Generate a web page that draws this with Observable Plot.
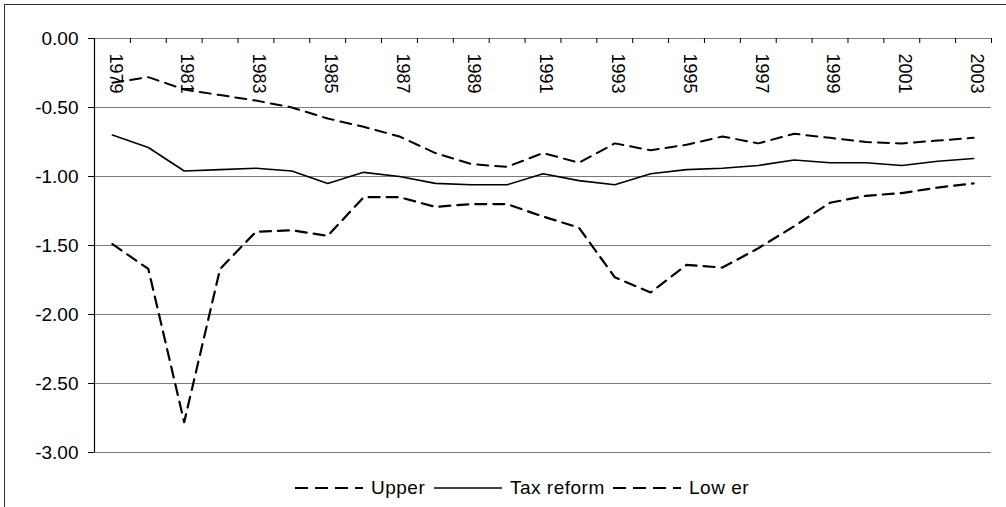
<!DOCTYPE html>
<html>
<head>
<meta charset="utf-8">
<script src="https://cdn.jsdelivr.net/npm/d3@7"></script>
<script src="https://cdn.jsdelivr.net/npm/@observablehq/plot@0.6"></script>
<style>
  html, body { margin: 0; padding: 0; background: #fff; overflow: hidden; }
  body { width: 1006px; height: 507px; position: relative; font-family: "Liberation Sans", Arial, sans-serif; }
  #frame { position: absolute; left: 4px; top: 4px; width: 1010px; height: 520px; border: 1.5px solid #333; box-sizing: border-box; pointer-events: none; }
  #chart { position: absolute; left: 0; top: 0; }
  #legend { position: absolute; left: 0; top: 476px; width: 1006px; height: 24px; font-size: 19px; color: #000; }
  #legend .item { position: absolute; top: 0; height: 24px; display: flex; align-items: center; white-space: pre; }
  #legend svg { display: block; }
</style>
</head>
<body>
<div id="chart"></div>
<div id="legend"></div>
<div id="frame"></div>
<script>
const years = [1979,1980,1981,1982,1983,1984,1985,1986,1987,1988,1989,1990,1991,1992,1993,1994,1995,1996,1997,1998,1999,2000,2001,2002,2003];
const labelYears = [1979,1981,1983,1985,1987,1989,1991,1993,1995,1997,1999,2001,2003];
const upper = [-0.32,-0.28,-0.37,-0.41,-0.45,-0.50,-0.58,-0.64,-0.71,-0.83,-0.91,-0.93,-0.83,-0.90,-0.76,-0.81,-0.77,-0.71,-0.76,-0.69,-0.72,-0.75,-0.76,-0.74,-0.72];
const taxReform = [-0.70,-0.79,-0.96,-0.95,-0.94,-0.96,-1.05,-0.97,-1.00,-1.05,-1.06,-1.06,-0.98,-1.03,-1.06,-0.98,-0.95,-0.94,-0.92,-0.88,-0.90,-0.90,-0.92,-0.89,-0.87];
const lower = [-1.49,-1.67,-2.78,-1.67,-1.40,-1.39,-1.43,-1.15,-1.15,-1.22,-1.20,-1.20,-1.29,-1.37,-1.73,-1.84,-1.64,-1.66,-1.52,-1.36,-1.19,-1.14,-1.12,-1.08,-1.05];
const yTicks = [0,-0.5,-1,-1.5,-2,-2.5,-3];
const seriesNames = ["Upper","Tax reform","Low er"];

const boundaries = years.map(y => y - 0.5).concat([years[years.length-1] + 0.5]);
const rows = (vals) => years.map((yr, i) => ({year: yr, value: vals[i]}));

const dash = "11,7";
const chart = Plot.plot({
  width: 1006,
  height: 470,
  marginLeft: 94,
  marginRight: 15,
  marginTop: 38,
  marginBottom: 18,
  style: {fontFamily: "Liberation Sans, Arial, sans-serif", color: "#000", background: "transparent"},
  x: {type: "linear", domain: [years[0]-0.5, years[years.length-1]+0.5], axis: null},
  y: {domain: [-3, 0], axis: null},
  marks: [
    Plot.ruleY(yTicks, {stroke: "#7a7a7a", strokeWidth: 1.2}),
    Plot.ruleX([boundaries[0]], {y1: -3, y2: 0, stroke: "#000", strokeWidth: 1.2}),
    Plot.axisY({ticks: yTicks, tickFormat: d => d.toFixed(2), tickSize: 6, tickPadding: 10, fontSize: 19, stroke: "#000", label: null}),
    Plot.ruleX(boundaries, {y1: 0, y2: 0, insetBottom: -5, stroke: "#000", strokeWidth: 1}),
    Plot.text(labelYears, {x: d => d, y: () => 0, text: d => String(d), rotate: 90, textAnchor: "start", lineAnchor: "middle", dy: 15, dx: 3, fontSize: 18, fill: "#000"}),
    Plot.line(rows(upper), {x: "year", y: "value", stroke: "#000", strokeWidth: 2, strokeDasharray: dash}),
    Plot.line(rows(taxReform), {x: "year", y: "value", stroke: "#000", strokeWidth: 1.6}),
    Plot.line(rows(lower), {x: "year", y: "value", stroke: "#000", strokeWidth: 2.2, strokeDasharray: dash})
  ]
});
document.getElementById("chart").appendChild(chart);

// legend
const legend = document.getElementById("legend");
const legendItems = [
  {name: seriesNames[0], left: 295, dashed: true},
  {name: seriesNames[1], left: 434, dashed: false},
  {name: seriesNames[2], left: 613, dashed: true}
];
for (const it of legendItems) {
  const div = document.createElement("div");
  div.className = "item";
  div.style.left = it.left + "px";
  div.innerHTML = `<svg width="76" height="24"><line x1="0" x2="68" y1="12" y2="12" stroke="#000" stroke-width="${it.dashed ? 2.2 : 1.6}" ${it.dashed ? 'stroke-dasharray="13,7"' : ''}/></svg><span style="letter-spacing:0.5px">${it.name}</span>`;
  legend.appendChild(div);
}
</script>
</body>
</html>
